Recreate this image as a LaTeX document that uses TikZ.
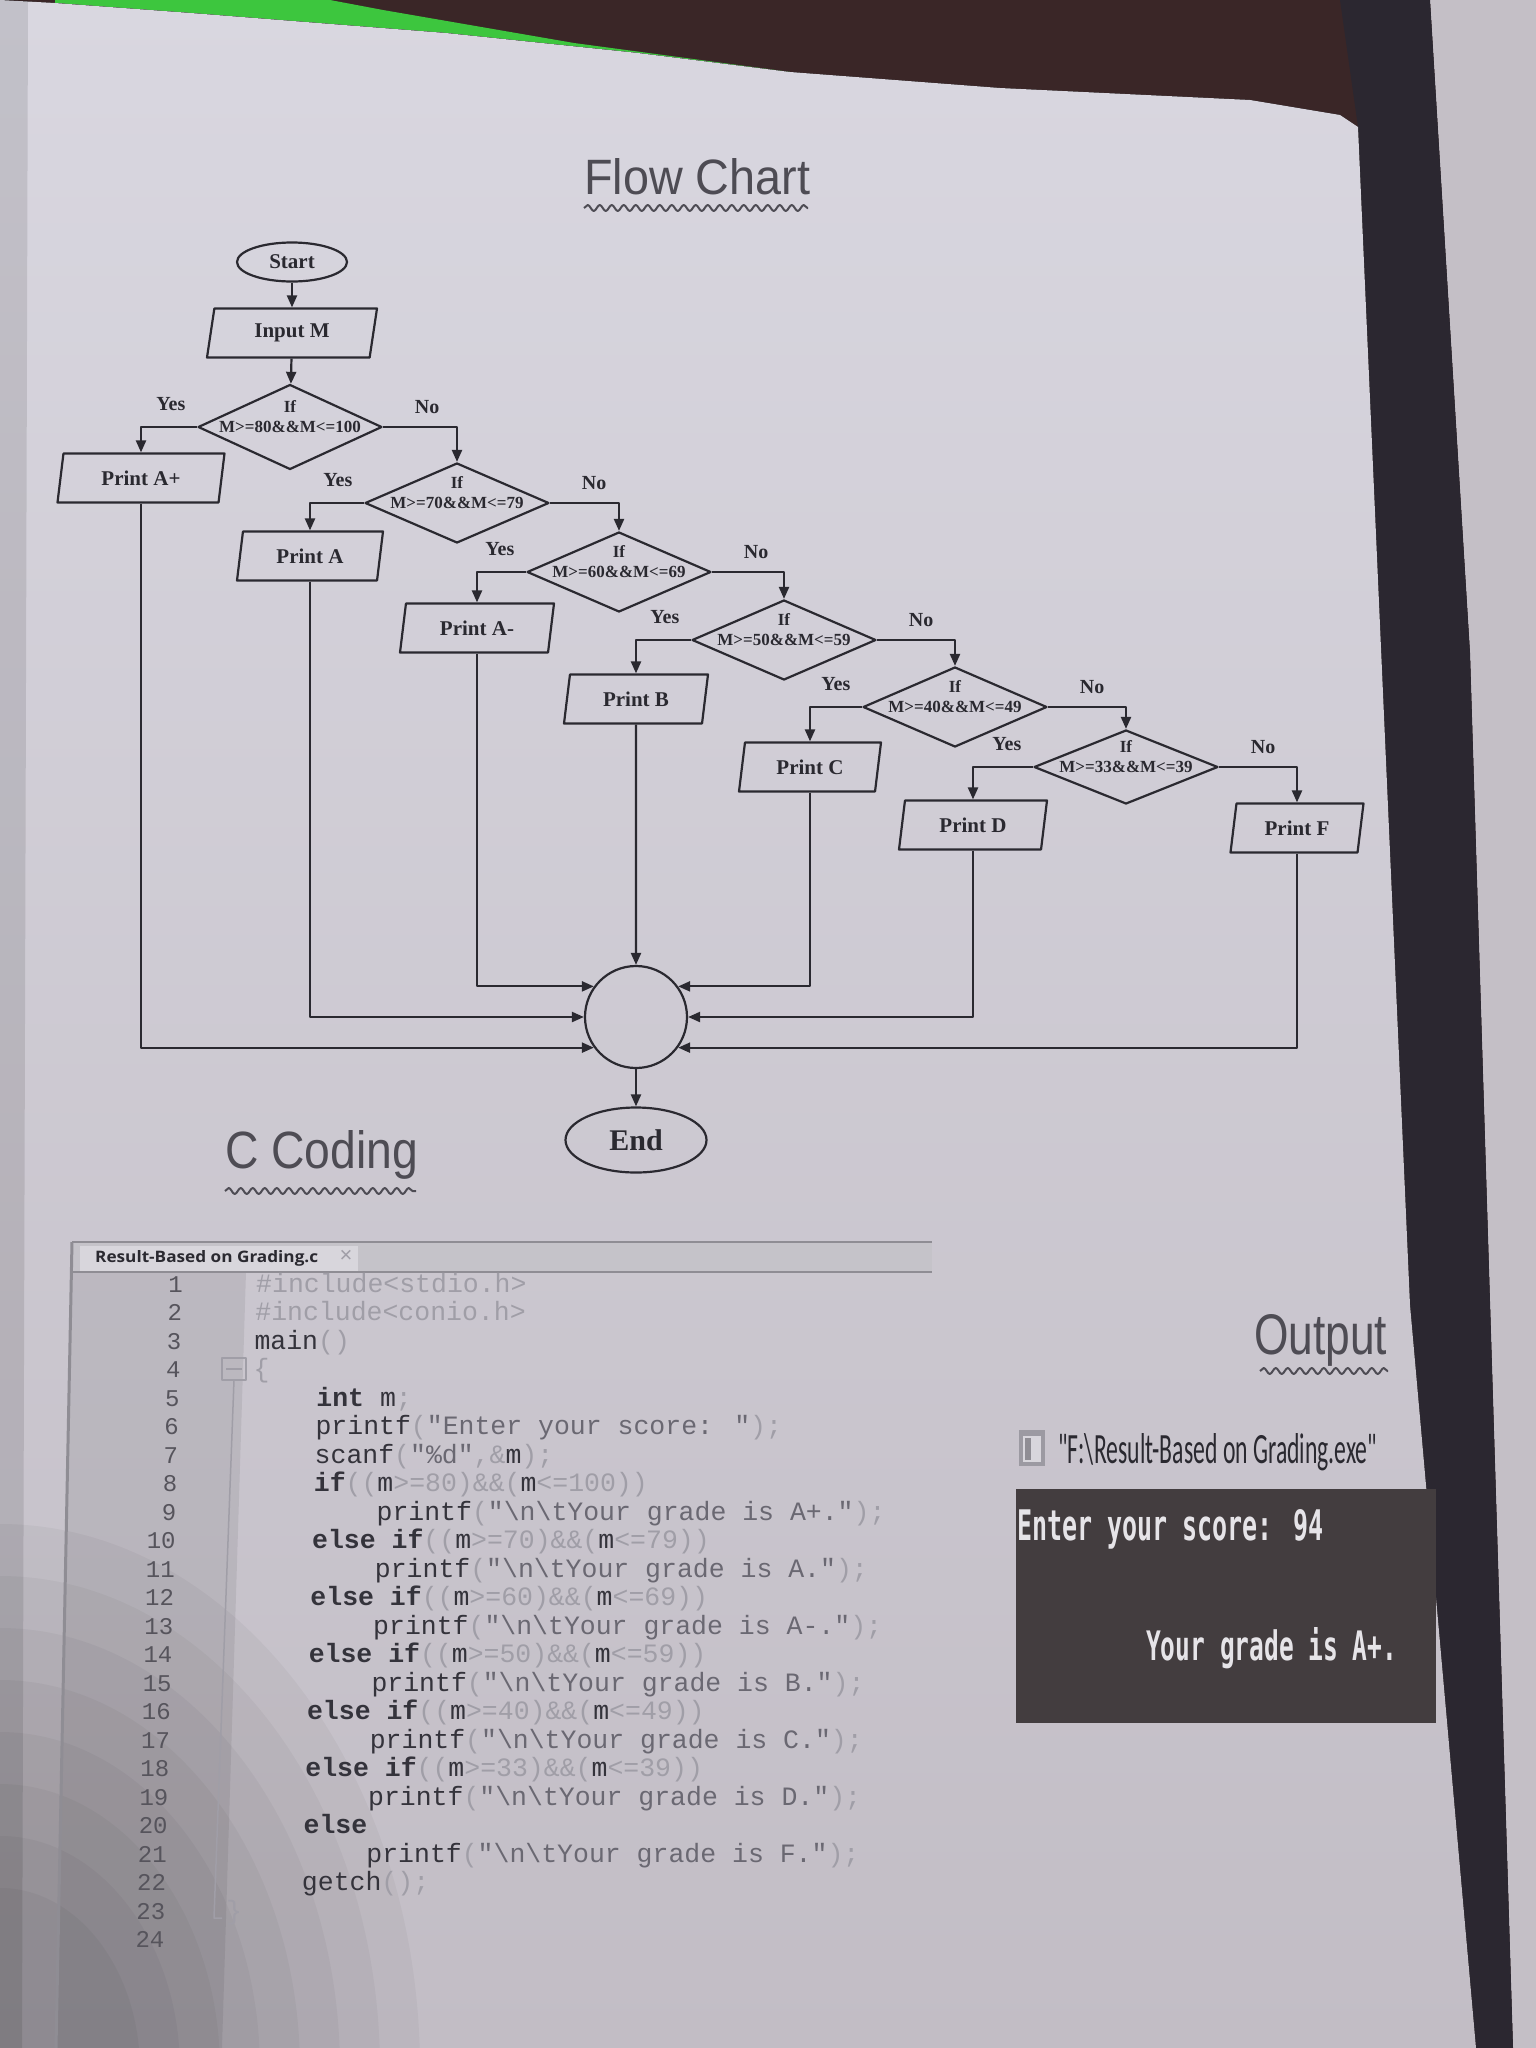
\documentclass[tikz,border=0pt]{standalone}
\usepackage{fontspec}
\usepackage{graphicx}
\setmainfont{Liberation Serif}
\newfontfamily\codefont{Liberation Mono}
\newfontfamily\tabfont{Open Sans}
\newfontfamily\handfont{Liberation Sans}
\newfontfamily\exefont{Carlito}
\newfontfamily\consolefont{DejaVu Sans Mono}
\usetikzlibrary{shapes.geometric,arrows.meta,calc,decorations.pathmorphing}

\definecolor{pagetop}{HTML}{D9D7E0}
\definecolor{pagebot}{HTML}{C2BDC5}
\definecolor{ink}{HTML}{2A2930}
\definecolor{hand}{HTML}{4E4C54}
\definecolor{kwc}{HTML}{34333B}
\definecolor{strc}{HTML}{6A6872}
\definecolor{litc}{HTML}{A09EA7}
\definecolor{numc}{HTML}{56545C}
\definecolor{tabbar}{HTML}{C5C3C9}
\definecolor{tabc}{HTML}{D8D6DC}
\definecolor{framec}{HTML}{8F8D94}
\definecolor{consolebg}{HTML}{433D3F}
\definecolor{consolefg}{HTML}{E6E4E8}
\definecolor{woodc}{HTML}{3A2627}
\definecolor{bindc}{HTML}{2B2730}
\definecolor{greenc}{HTML}{3DC63E}
\definecolor{otherpage}{HTML}{C4BFC6}
\definecolor{iconc}{HTML}{9C9AA2}

\newcommand{\fcfont}{\fontsize{21}{24}\selectfont\bfseries}
\newcommand{\condfont}{\fontsize{17}{19}\selectfont\bfseries}
\newcommand{\ckw}[1]{\textcolor{kwc}{\bfseries #1}}
\newcommand{\cid}[1]{\textcolor{kwc}{#1}}
\newcommand{\cstr}[1]{\textcolor{strc}{#1}}
\newcommand{\clt}[1]{\textcolor{litc}{#1}}
\newcommand{\bsl}{\textbackslash}

% one numbered source line: number, indent level, coloured text
\newcommand{\codeline}[3]{%
  \node[lnum] (ln#1) at ({183-0.8*(#1-1)},{1292+28.5*(#1-1)}) {#1};
  \node[ctext] (cl#1) at ({256+63.6*#2-0.85*(#1-1)},{1292+28.5*(#1-1)}) {#3};
}

\tikzset{
  shape line/.style={draw=ink, line width=2.2pt},
  term/.style={ellipse, shape line, inner sep=0pt, text=ink, font=\fcfont},
  io/.style={trapezium, trapezium left angle=68, trapezium right angle=112,
    trapezium stretches body, shape line, minimum height=49pt, inner sep=0pt,
    text=ink, font=\fcfont},
  dia/.style={diamond, shape line, minimum width=184pt, minimum height=80pt, inner sep=0pt},
  dtxt/.style={inner sep=0pt, text=ink, font=\condfont},
  lbl/.style={inner sep=0pt, text=ink, font=\fontsize{20}{22}\selectfont\bfseries},
  arr/.style={draw=ink, line width=2.2pt, -{Triangle[length=12pt,width=10pt]}},
  lnum/.style={anchor=base east, inner sep=0pt, text=numc, font=\codefont\fontsize{24}{26}\selectfont},
  ctext/.style={anchor=base west, inner sep=0pt, font=\codefont\fontsize{26.5}{28}\selectfont},
  wave/.style={draw=hand, line width=2pt, decorate,
    decoration={snake, amplitude=3pt, segment length=12pt}},
  plain text/.style={anchor=base west, inner sep=0pt},
}

\begin{document}
\begin{tikzpicture}[x=1pt, y=-1pt, line join=round]
\useasboundingbox (0,0) rectangle (1536,2048);

% ---- surroundings: desk, cover tab, binding and next page
\fill[woodc] (0,0) rectangle (1536,2048);
\fill[otherpage] (1430,0) -- (1536,0) -- (1536,2048) -- (1513,2048) -- (1470,653) -- cycle;
\fill[bindc] (1340,0) -- (1430,0) -- (1470,653) -- (1513,2048) -- (1476,2048)
  -- (1410,1305) -- (1358,127) -- cycle;
\fill[greenc] (55,0) -- (330,0) -- (383,10) -- (574,43) -- (790,72)
  -- (638,53) -- (446,33) -- (191,13) -- (55,3) -- cycle;

% ---- the page
\fill[top color=pagetop, bottom color=pagebot]
  (0,0) -- (55,3) -- (191,13) -- (446,33) -- (638,53) -- (790,72) -- (1000,88)
  -- (1250,100) -- (1340,115) -- (1358,127) -- (1410,1305) -- (1476,2048)
  -- (0,2048) -- cycle;
\fill[black, opacity=0.10] (0,0) -- (28,0) -- (22,2048) -- (0,2048) -- cycle;
% soft shadow in the lower left corner
\foreach \r in {420,380,340,300,260,220,180,140}
  \fill[black, opacity=0.035] (0,2070) ellipse ({\r} and {1.3*\r});

% ---- headings
\node[plain text, text=hand] (fctitle) at (584,194)
  {\resizebox{226pt}{36pt}{\handfont Flow Chart}};
\draw[wave] (584,208) -- (808,208);
\node[plain text, text=hand] (ctitle) at (225,1168)
  {\resizebox{193pt}{38pt}{\handfont C Coding}};
\draw[wave] (225,1191) -- (416,1191);
\node[plain text, text=hand] (otitle) at (1254,1354)
  {\resizebox{133pt}{40pt}{\handfont Output}};
\draw[wave] (1260,1371) -- (1388,1371);

% ---- flow chart nodes
\node[term, minimum width=110pt, minimum height=39pt] (start) at (292,262) {Start};
\node[io, minimum width=170pt] (input) at (292,333) {Input M};

\node[dia, minimum height=85pt] (d1) at (290,427) {};
\node[dia] (d2) at (457,503) {};
\node[dia] (d3) at (619,572) {};
\node[dia] (d4) at (784,640) {};
\node[dia] (d5) at (955,707) {};
\node[dia, minimum height=74pt] (d6) at (1126,767) {};

\foreach \d/\c in {d1/M>=80\&\&M<=100, d2/M>=70\&\&M<=79, d3/M>=60\&\&M<=69,
                   d4/M>=50\&\&M<=59, d5/M>=40\&\&M<=49, d6/M>=33\&\&M<=39} {
  \node[dtxt] (\d if) at ($(\d.center)+(0,-20)$) {If};
  \node[dtxt] (\d cond) at (\d.center) {\c};
  \node[lbl] (\d yes) at ($(\d.west)+(-26,-23)$) {Yes};
  \node[lbl] (\d no) at ($(\d.east)+(44,-20)$) {No};
}

\node[io, minimum width=167pt] (pAp) at (141,478) {Print A+};
\node[io, minimum width=146pt] (pA)  at (310,556) {Print A};
\node[io, minimum width=154pt] (pAm) at (477,628) {Print A-};
\node[io, minimum width=144pt] (pB)  at (636,699) {Print B};
\node[io, minimum width=142pt] (pC)  at (810,767) {Print C};
\node[io, minimum width=148pt] (pD)  at (973,825) {Print D};
\node[io, minimum width=133pt] (pF)  at (1297,828) {Print F};

\node[circle, shape line, minimum size=102pt, inner sep=0pt] (conn) at (636,1017) {};
\node[term, minimum width=141pt, minimum height=65pt,
      font=\fontsize{30}{32}\selectfont\bfseries] (end) at (636,1140) {End};

% ---- flow chart connectors
\draw[arr] (start) -- (input);
\draw[arr] (input) -- (d1);
\draw[arr] (d1.west) -| (pAp.north);
\draw[arr] (d1.east) -| (d2.north);
\draw[arr] (d2.west) -| (pA.north);
\draw[arr] (d2.east) -| (d3.north);
\draw[arr] (d3.west) -| (pAm.north);
\draw[arr] (d3.east) -| (d4.north);
\draw[arr] (d4.west) -| (pB.north);
\draw[arr] (d4.east) -| (d5.north);
\draw[arr] (d5.west) -| (pC.north);
\draw[arr] (d5.east) -| (d6.north);
\draw[arr] (d6.west) -| (pD.north);
\draw[arr] (d6.east) -| (pF.north);

\draw[arr] (pAp.south) |- (conn.216);
\draw[arr] (pA.south)  |- (conn.180);
\draw[arr] (pAm.south) |- (conn.144);
\draw[arr] (pB.south)  -- (conn.north);
\draw[arr] (pC.south)  |- (conn.36);
\draw[arr] (pD.south)  |- (conn.0);
\draw[arr] (pF.south)  |- (conn.-36);
\draw[arr] (conn) -- (end);

% ---- editor window
\fill[black, opacity=0.07] (72,1272) -- (246,1272) -- (222,2048) -- (56,2048) -- cycle;
\fill[tabbar] (72,1242) rectangle (932,1272);
\fill[tabc] (80,1246) rectangle (358,1272);
\draw[framec, line width=1.5pt] (72,1242) -- (932,1242);
\draw[framec, line width=2pt] (72,1272) -- (932,1272);
\draw[framec, line width=3pt] (72,1242) -- (56,2048);
\node[plain text, text=ink] (tabname) at (95,1262)
  {\resizebox{223pt}{12pt}{\tabfont\bfseries Result-Based on Grading.c}};
\node[inner sep=0pt, text=litc, font=\handfont\fontsize{22}{22}\selectfont] (tabclose)
  at (346,1256) {×};

% fold marker of the main block
\draw[litc, line width=1.5pt] (222,1358) rectangle (246,1380);
\draw[litc, line width=1.5pt] (226,1369) -- (242,1369);
\draw[litc, line width=1.5pt] (234,1380) -- (214,1918) -- (222,1918);

\codeline{1}{0}{\clt{\#include<stdio.h>}}
\codeline{2}{0}{\clt{\#include<conio.h>}}
\codeline{3}{0}{\cid{main}\clt{()}}
\codeline{4}{0}{\clt{\{}}
\codeline{5}{1}{\ckw{int} \cid{m}\clt{;}}
\codeline{6}{1}{\cid{printf}\clt{(}\cstr{"Enter your score: "}\clt{);}}
\codeline{7}{1}{\cid{scanf}\clt{(}\cstr{"\%d"}\clt{,\&}\cid{m}\clt{);}}
\codeline{8}{1}{\ckw{if}\clt{((}\cid{m}\clt{>=80)\&\&(}\cid{m}\clt{<=100))}}
\codeline{9}{2}{\cid{printf}\clt{(}\cstr{"\bsl n\bsl tYour grade is A+."}\clt{);}}
\codeline{10}{1}{\ckw{else if}\clt{((}\cid{m}\clt{>=70)\&\&(}\cid{m}\clt{<=79))}}
\codeline{11}{2}{\cid{printf}\clt{(}\cstr{"\bsl n\bsl tYour grade is A."}\clt{);}}
\codeline{12}{1}{\ckw{else if}\clt{((}\cid{m}\clt{>=60)\&\&(}\cid{m}\clt{<=69))}}
\codeline{13}{2}{\cid{printf}\clt{(}\cstr{"\bsl n\bsl tYour grade is A-."}\clt{);}}
\codeline{14}{1}{\ckw{else if}\clt{((}\cid{m}\clt{>=50)\&\&(}\cid{m}\clt{<=59))}}
\codeline{15}{2}{\cid{printf}\clt{(}\cstr{"\bsl n\bsl tYour grade is B."}\clt{);}}
\codeline{16}{1}{\ckw{else if}\clt{((}\cid{m}\clt{>=40)\&\&(}\cid{m}\clt{<=49))}}
\codeline{17}{2}{\cid{printf}\clt{(}\cstr{"\bsl n\bsl tYour grade is C."}\clt{);}}
\codeline{18}{1}{\ckw{else if}\clt{((}\cid{m}\clt{>=33)\&\&(}\cid{m}\clt{<=39))}}
\codeline{19}{2}{\cid{printf}\clt{(}\cstr{"\bsl n\bsl tYour grade is D."}\clt{);}}
\codeline{20}{1}{\ckw{else}}
\codeline{21}{2}{\cid{printf}\clt{(}\cstr{"\bsl n\bsl tYour grade is F."}\clt{);}}
\codeline{22}{1}{\cid{getch}\clt{();}}
\node[lnum] (ln23) at ({183-0.8*22},{1292+28.5*22}) {23};
\node[ctext] (cl23) at (226,{1292+28.5*22}) {\clt{\}}};
\node[lnum] (ln24) at ({183-0.8*23},{1292+28.5*23}) {24};

% ---- program output
\fill[iconc] (1019,1430) rectangle (1045,1466);
\fill[tabc] (1023,1436) rectangle (1041,1462);
\fill[framec] (1025,1438) rectangle (1031,1460);
\node[plain text, text=ink] (exename) at (1058,1463)
  {\resizebox{319pt}{30pt}{\exefont "F:\bsl Result-Based on Grading.exe"}};

\fill[consolebg] (1016,1489) rectangle (1436,1723);
\node[plain text, text=consolefg] (out1) at (1017,1540)
  {\resizebox{306pt}{31pt}{\consolefont\bfseries Enter your score: 94}};
\node[plain text, text=consolefg] (out2) at (1146,1660)
  {\resizebox{251pt}{33pt}{\consolefont\bfseries Your grade is A+.}};
\end{tikzpicture}
\end{document}
